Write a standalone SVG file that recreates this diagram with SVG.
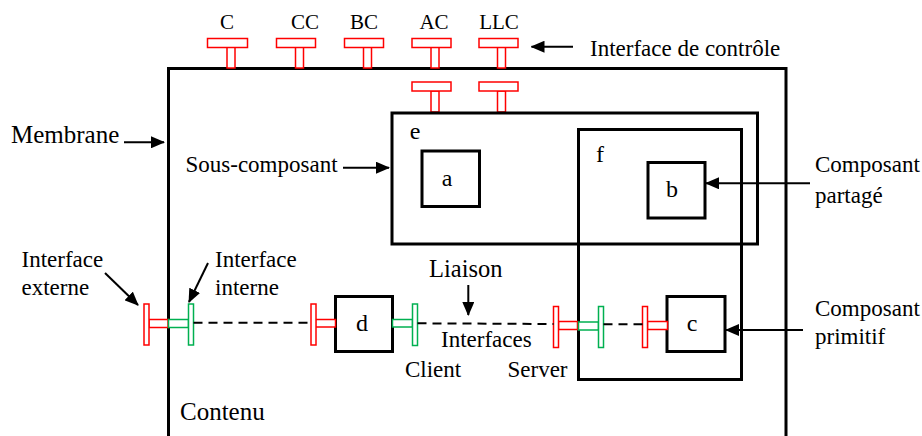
<svg xmlns="http://www.w3.org/2000/svg" width="922" height="436" viewBox="0 0 922 436">
<style>
  text { font-family: "Liberation Serif", "Times New Roman", serif; fill: #000; }
  .lbl { font-size: 23px; }
  .top { font-size: 21px; text-anchor: middle; }
  .nm { font-size: 24px; text-anchor: middle; }
  .box { fill: none; stroke: #000; stroke-width: 3; }
  .ri { fill: #fff; stroke: #ff0000; stroke-width: 1.5; }
  .gi { fill: #fff; stroke: #00b050; stroke-width: 1.5; }
  .arr { stroke: #000; stroke-width: 2; fill: none; marker-end: url(#ah); }
  .dash { stroke: #000; stroke-width: 2; stroke-dasharray: 9 6; fill: none; }
</style>
<defs>
  <marker id="ah" markerUnits="userSpaceOnUse" markerWidth="14" markerHeight="12" refX="13" refY="6" orient="auto">
    <path d="M0,0 L14,6 L0,12 z" fill="#000"/>
  </marker>
</defs>
<rect width="922" height="436" fill="#fff"/>

<g id="membrane">
  <path class="box" d="M168.5,440 V68.5 H786 V440"/>
  <text x="11" y="143" style="font-size:25px">Membrane</text>
  <text x="180" y="420" style="font-size:25px">Contenu</text>
</g>

<g id="control-interfaces">
  <text class="top" x="227" y="29">C</text>
  <text class="top" x="305" y="29">CC</text>
  <text class="top" x="364" y="29">BC</text>
  <text class="top" x="434" y="29">AC</text>
  <text class="top" x="499" y="29">LLC</text>
  <rect class="ri" x="227" y="47" width="8" height="21"/>
  <rect class="ri" x="207.5" y="38.5" width="40" height="9"/>
  <rect class="ri" x="295.5" y="47" width="8" height="21"/>
  <rect class="ri" x="276.5" y="38.5" width="39" height="9"/>
  <rect class="ri" x="363.5" y="47" width="8" height="21"/>
  <rect class="ri" x="344.5" y="38.5" width="39" height="9"/>
  <rect class="ri" x="431" y="47" width="8" height="21"/>
  <rect class="ri" x="412" y="38.5" width="39" height="9"/>
  <rect class="ri" x="497.5" y="47" width="8" height="21"/>
  <rect class="ri" x="479" y="38.5" width="39" height="9"/>
  <rect class="ri" x="431" y="91" width="8" height="21"/>
  <rect class="ri" x="412" y="82" width="39" height="9"/>
  <rect class="ri" x="497.5" y="91" width="8" height="21"/>
  <rect class="ri" x="479" y="82" width="39" height="9"/>
  <text class="lbl" x="590" y="56">Interface de contrôle</text>
</g>

<g id="e">
  <rect class="box" x="392" y="113" width="365.5" height="131"/>
  <text class="nm" x="415" y="139">e</text>
</g>
<g id="f">
  <rect class="box" x="578.5" y="129.5" width="163" height="250"/>
  <text class="nm" x="600" y="162">f</text>
</g>
<g id="a">
  <rect class="box" x="422" y="151" width="57.5" height="55.5"/>
  <text class="nm" x="447" y="186">a</text>
</g>
<g id="b">
  <rect class="box" x="648" y="162.5" width="57" height="55.5"/>
  <text class="nm" x="672" y="197">b</text>
</g>
<g id="d">
  <rect class="box" x="335.5" y="296.5" width="57" height="55"/>
  <text class="nm" x="362" y="331">d</text>
</g>
<g id="c">
  <rect class="box" x="667" y="296.5" width="58" height="55"/>
  <text class="nm" x="692" y="331">c</text>
</g>

<g id="functional-interfaces">
  <rect class="ri" x="149" y="319.5" width="19" height="8"/>
  <rect class="ri" x="144" y="304" width="5" height="41"/>
  <rect class="gi" x="168.5" y="319.5" width="20" height="8"/>
  <rect class="gi" x="188.5" y="304" width="5" height="41"/>
  <rect class="ri" x="315.5" y="319.5" width="20" height="7.5"/>
  <rect class="ri" x="311" y="304" width="5" height="41"/>
  <rect class="gi" x="392.5" y="319.5" width="20" height="7.5"/>
  <rect class="gi" x="412.5" y="304" width="5" height="41.5"/>
  <rect class="ri" x="558.5" y="321.5" width="19" height="8"/>
  <rect class="ri" x="553.5" y="306.5" width="5" height="41"/>
  <rect class="gi" x="578.5" y="322" width="20" height="8"/>
  <rect class="gi" x="598.5" y="306.5" width="5" height="41"/>
  <rect class="ri" x="647.5" y="321.5" width="20" height="8"/>
  <rect class="ri" x="642.5" y="306.5" width="5" height="41"/>
</g>

<g id="connectors">
  <line class="dash" x1="193.5" y1="322.7" x2="311" y2="322.7"/>
  <line class="dash" x1="417.5" y1="323.3" x2="553.5" y2="324"/>
  <line class="dash" x1="603.5" y1="324.3" x2="642.5" y2="324.3"/>
  <line class="arr" x1="573" y1="46.7" x2="531.5" y2="46.7"/>
  <line class="arr" x1="124" y1="142.3" x2="164" y2="142.3"/>
  <line class="arr" x1="343" y1="167.7" x2="389" y2="167.7"/>
  <line class="arr" x1="810" y1="183.3" x2="706" y2="183.3"/>
  <line class="arr" x1="803" y1="330" x2="726" y2="330"/>
  <line class="arr" x1="468.3" y1="285" x2="468.3" y2="315"/>
  <line class="arr" x1="105" y1="273" x2="138" y2="305"/>
  <line class="arr" x1="208" y1="263" x2="189" y2="302"/>
</g>

<g id="labels">
  <text class="lbl" x="185.5" y="171.5">Sous-composant</text>
  <text class="lbl" x="815" y="171.5">Composant</text>
  <text class="lbl" x="815" y="203">partagé</text>
  <text class="lbl" x="815" y="316">Composant</text>
  <text class="lbl" x="815" y="343.5">primitif</text>
  <text class="lbl" x="21.5" y="266.5">Interface</text>
  <text class="lbl" x="21.5" y="295">externe</text>
  <text class="lbl" x="215" y="266.5">Interface</text>
  <text class="lbl" x="215" y="295">interne</text>
  <text x="429" y="277" style="font-size:24.5px">Liaison</text>
  <text class="lbl" x="441" y="346.5">Interfaces</text>
  <text class="lbl" x="405" y="376.5">Client</text>
  <text class="lbl" x="507.5" y="376.5">Server</text>
</g>
</svg>
